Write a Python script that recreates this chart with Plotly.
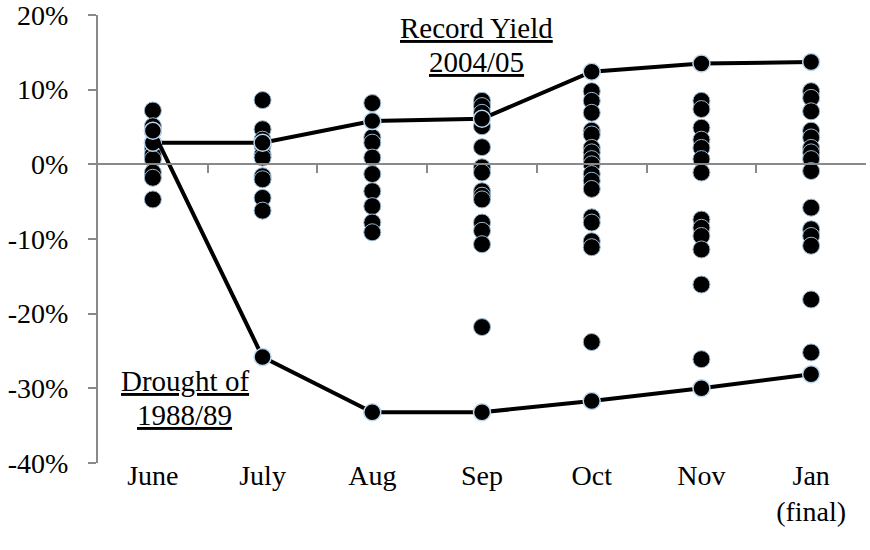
import plotly.graph_objects as go

months = ["June", "July", "Aug", "Sep", "Oct", "Nov", "Jan<br>(final)"]

june = [7.2, 5.1, 4.4, 2.9, 2.2, 1.3, 0.7, -1.1, -1.8, -4.7]
july = [8.6, 4.7, 3.3, 2.5, 1.3, 0.9, -1.6, -2.0, -4.5, -6.2]
aug = [8.2, 3.6, 2.9, 0.9, -1.3, -3.6, -5.6, -7.8, -9.1]
sep = [8.5, 7.8, 6.9, 5.1, 2.3, -0.4, -1.1, -3.6, -4.2, -4.7, -7.8, -8.9, -10.7, -21.8]
oct_ = [9.8, 8.5, 6.9, 4.5, 4.0, 2.2, 1.6, 0.7, 0.0, -1.3, -2.2, -3.3, -7.1, -7.8, -10.3, -11.1, -23.8]
nov = [8.5, 7.4, 4.9, 3.3, 2.2, 0.7, -1.1, -7.4, -8.5, -9.6, -11.4, -16.1, -26.1]
jan = [9.8, 8.9, 7.1, 4.5, 3.6, 2.2, 1.6, 0.7, -0.9, -5.8, -8.7, -9.6, -10.9, -18.1, -25.2]

record_2004 = [2.9, 2.9, 5.8, 6.1, 12.4, 13.5, 13.7]
drought_1988 = [4.5, -25.8, -33.2, -33.2, -31.7, -30.0, -28.1]

y_ticks = [-40, -30, -20, -10, 0, 10, 20]

columns = [june, july, aug, sep, oct_, nov, jan]
xs, ys = [], []
for i, col in enumerate(columns):
    for v in col:
        xs.append(i)
        ys.append(v / 100)

FONT = "Liberation Serif, Times New Roman, serif"
FS = 28
FA = 29
GRAY = "#898989"

fig = go.Figure()
fig.add_trace(go.Scatter(
    x=xs, y=ys, mode="markers",
    marker=dict(size=17, color="black", line=dict(color="#9BB7CF", width=1)),
    showlegend=False, hoverinfo="skip"))
fig.add_trace(go.Scatter(
    x=list(range(len(months))), y=[v / 100 for v in record_2004], mode="lines+markers",
    line=dict(color="black", width=4),
    marker=dict(size=17, color="black", line=dict(color="#BDD7EE", width=1.5)),
    showlegend=False))
fig.add_trace(go.Scatter(
    x=list(range(len(months))), y=[v / 100 for v in drought_1988], mode="lines+markers",
    line=dict(color="black", width=4),
    marker=dict(size=17, color="black", line=dict(color="#BDD7EE", width=1.5)),
    showlegend=False))
# invisible trace so the zero-line axis is drawn
fig.add_trace(go.Scatter(x=[0], y=[0], xaxis="x2", mode="markers",
                         marker=dict(opacity=0), showlegend=False, hoverinfo="skip"))

fig.update_layout(
    width=870, height=550,
    margin=dict(l=98, r=4, t=15, b=87, autoexpand=False),
    paper_bgcolor="white", plot_bgcolor="white",
    font=dict(family=FONT, size=FS, color="black"),
    xaxis=dict(
        range=[-0.5, 6.5], tickmode="array",
        tickvals=list(range(len(months))), ticktext=months,
        showline=False, showgrid=False, zeroline=False, ticks="",
        ticklabelstandoff=-7, automargin=False,
        tickfont=dict(family=FONT, size=FS, color="black"),
    ),
    xaxis2=dict(
        overlaying="x", anchor="free", position=2 / 3, side="bottom",
        range=[-0.5, 6.5], tickmode="array",
        tickvals=[0.5, 1.5, 2.5, 3.5, 4.5, 5.5],
        showticklabels=False, ticks="outside", ticklen=8, tickwidth=2,
        tickcolor=GRAY, showline=True, linecolor=GRAY, linewidth=2,
        showgrid=False, zeroline=False, automargin=False,
    ),
    yaxis=dict(
        range=[-0.4, 0.2], tickmode="array",
        tickvals=[v / 100 for v in y_ticks], ticktext=[f"{v}%" for v in y_ticks],
        showline=True, linecolor=GRAY, linewidth=2,
        ticks="outside", ticklen=8, tickwidth=2, tickcolor=GRAY,
        showgrid=False, zeroline=False, ticklabelstandoff=14,
        ticklabeloverflow="allow", automargin=False,
        tickfont=dict(family=FONT, size=FS, color="black"),
    ),
    annotations=[
        dict(text="<u>Record Yield</u>", x=2.95, y=0.183, xref="x", yref="y",
             showarrow=False, font=dict(family=FONT, size=FA, color="black")),
        dict(text="<u>2004/05</u>", x=2.95, y=0.1365, xref="x", yref="y",
             showarrow=False, font=dict(family=FONT, size=FA, color="black")),
        dict(text="<u>Drought of</u>", x=0.29, y=-0.29, xref="x", yref="y",
             showarrow=False, font=dict(family=FONT, size=FA, color="black")),
        dict(text="<u>1988/89</u>", x=0.29, y=-0.336, xref="x", yref="y",
             showarrow=False, font=dict(family=FONT, size=FA, color="black")),
    ],
)

fig.write_html(
    "out.html",
    config={"displayModeBar": False},
    post_script="document.body.style.margin='0';document.body.style.padding='0';",
)
